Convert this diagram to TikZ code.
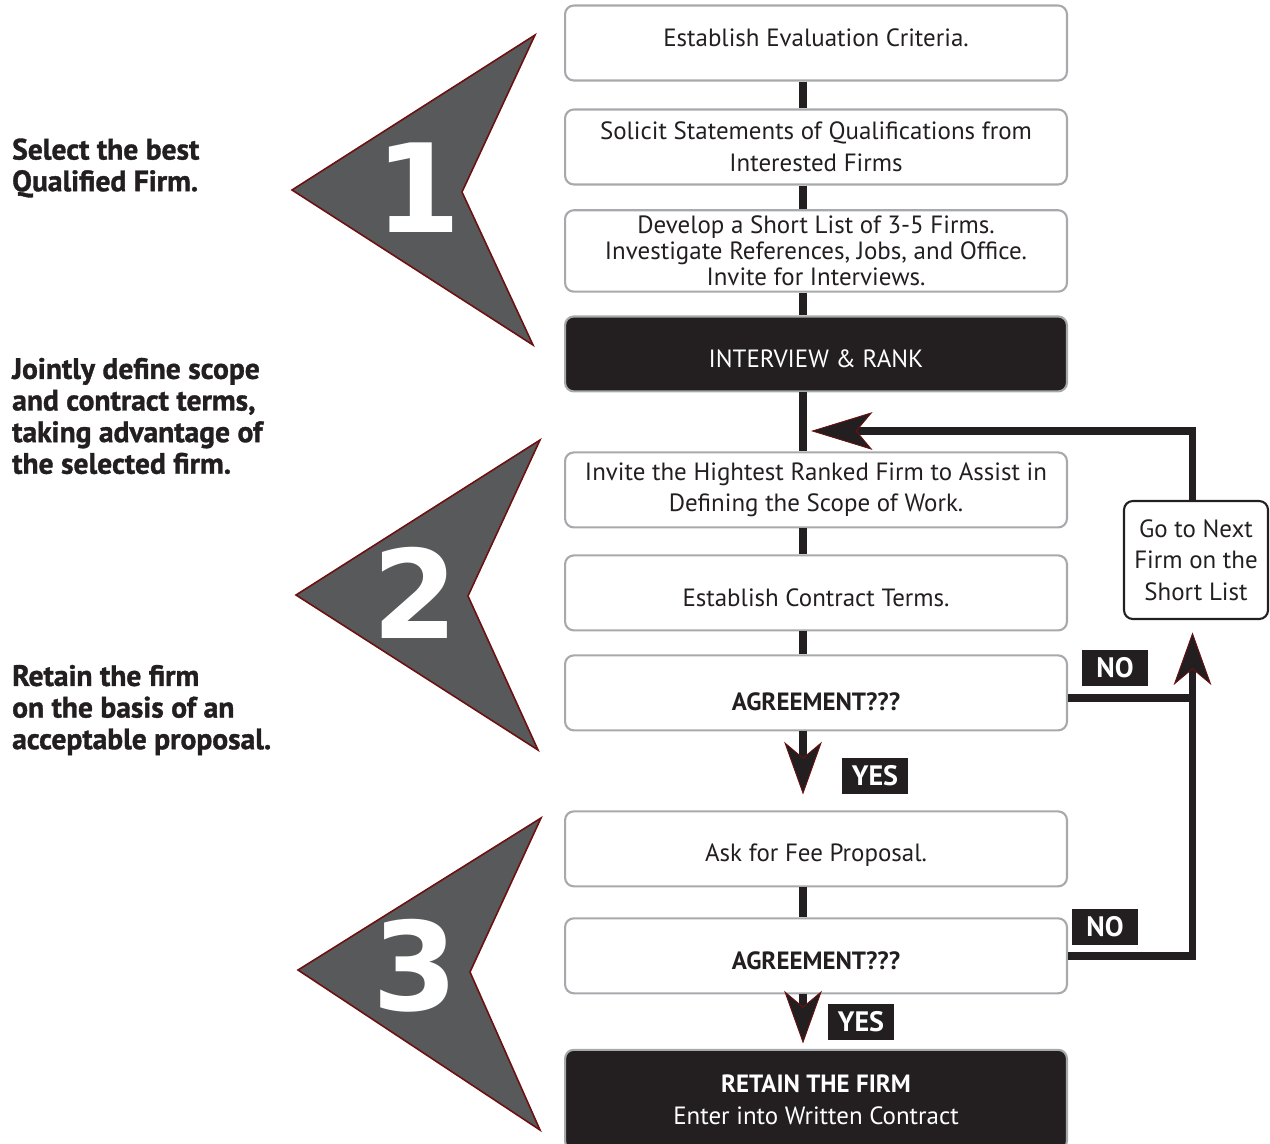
\documentclass[tikz,border=0pt]{standalone}
\usepackage{fontspec}
\setmainfont{PT Sans}
\newfontfamily\condfont[FakeBold=1.2]{PT Sans Bold}
\newfontfamily\numfont{DejaVu Sans}
\usetikzlibrary{positioning,arrows.meta}

\definecolor{boxgray}{HTML}{A7A9AC}
\definecolor{inkblack}{HTML}{231F20}
\definecolor{chevgray}{HTML}{58595B}
\definecolor{chevred}{HTML}{6D1010}

% shift the ink of a text without changing its box
\newcommand{\nudge}[2]{\raisebox{#1}[\height][\depth]{#2}}

\tikzstyle{block} = [draw=boxgray, line width=1.2pt, fill=white, rectangle, rounded corners=5pt, minimum width=10.04cm, minimum height=1.5cm, align=center, text=inkblack, font=\fontsize{14.2}{18}\selectfont]
\tikzstyle{darkblock} = [block, fill=inkblack, text=white]
\tikzstyle{sidebox} = [draw=inkblack, line width=1.2pt, rectangle, rounded corners=5pt, minimum width=2.88cm, minimum height=2.36cm, align=center, text=inkblack, font=\fontsize{14.2}{18}\selectfont]
\tikzstyle{tag} = [fill=inkblack, text=white, minimum width=1.32cm, minimum height=0.72cm, inner sep=0pt, font=\fontsize{16}{18}\selectfont\bfseries]
\tikzstyle{note} = [anchor=west, align=left, text=inkblack, font=\condfont\fontsize{16.8}{18}\selectfont]
\tikzstyle{flow} = [draw=inkblack, line width=4.5pt]
\tikzstyle{chevron} = [fill=chevgray, draw=chevred, line width=0.9pt, line join=miter]
\tikzstyle{bignum} = [text=white, font=\numfont\fontsize{70}{70}\selectfont\bfseries]

\begin{document}
\begin{tikzpicture}[x=0.02cm, y=-0.02cm, node distance=2.08cm,
  dart/.style={-{Stealth[length=30pt, width=21.5pt, inset=9pt, color=chevred, fill=inkblack, line width=0.5pt]}},
  longdart/.style={-{Stealth[length=35pt, width=21.5pt, inset=9pt, color=chevred, fill=inkblack, line width=0.5pt]}}]
  \useasboundingbox (0,0) rectangle (1270,1143);

  % chevrons
  \draw[chevron] (292,190) -- (535,35) -- (462,192) -- (533,345) -- cycle;
  \draw[chevron] (296,595) -- (540,440) -- (468,596) -- (538,750) -- cycle;
  \draw[chevron] (298,970) -- (541,818) -- (470,972) -- (540,1130) -- cycle;
  \node[bignum] (one) at (418,188) {1};
  \node[bignum] (two) at (415,593) {2};
  \node[bignum] (three) at (415,966) {3};

  % side notes
  \node[note] (sel) at (6,168) {Select the best\\Qualified Firm.};
  \node[note] (joint) at (6,416) {Jointly define scope\\and contract terms,\\taking advantage of\\the selected firm.};
  \node[note] (keep) at (6,710) {Retain the firm\\on the basis of an\\acceptable proposal.};

  % main column
  \coordinate (spine) at (803,0);
  \node[block] (crit) at (816,43) {\nudge{2.8pt}{Establish Evaluation Criteria.}};
  \node[block, below of=crit] (soq) {Solicit Statements of Qualifications from\\Interested Firms};
  \node[block, below of=soq, font=\fontsize{14.2}{14.7}\selectfont] (list) {Develop a Short List of 3-5 Firms.\\Investigate References, Jobs, and Office.\\Invite for Interviews.};
  \node[darkblock, below of=list, node distance=2.06cm] (rank) {\nudge{-2.6pt}{INTERVIEW \& RANK}};
  \node[block, below of=rank, node distance=2.72cm] (scope) {Invite the Hightest Ranked Firm to Assist in\\Defining the Scope of Work.};
  \node[block, below of=scope, node distance=2.06cm] (terms) {\nudge{-2.8pt}{Establish Contract Terms.}};
  \node[block, below of=terms, node distance=2cm] (agr1) {\nudge{-5pt}{\bfseries AGREEMENT???}};
  \node[block, below of=agr1, node distance=3.12cm] (fee) {\nudge{-3.4pt}{Ask for Fee Proposal.}};
  \node[block, below of=fee, node distance=2.14cm] (agr2) {\nudge{-2.8pt}{\bfseries AGREEMENT???}};
  \node[darkblock, below of=agr2, node distance=2.88cm, minimum height=2cm] (retain) {\bfseries RETAIN THE FIRM\\Enter into Written Contract};

  \node[sidebox] (next) at (1196,560) {Go to Next\\Firm on the\\Short List};

  % labels
  \node[tag] (no1) at (1115,668) {NO};
  \node[tag] (no2) at (1105,927) {NO};
  \node[tag] (yes1) at (875,776) {YES};
  \node[tag] (yes2) at (861,1022) {YES};

  % connectors
  \draw[flow] (crit.south -| spine) -- (soq.north -| spine);
  \draw[flow] (soq.south -| spine) -- (list.north -| spine);
  \draw[flow] (list.south -| spine) -- (rank.north -| spine);
  \draw[flow] (rank.south -| spine) -- (scope.north -| spine);
  \draw[flow] (scope.south -| spine) -- (terms.north -| spine);
  \draw[flow] (terms.south -| spine) -- (agr1.north -| spine);
  \draw[flow, dart, shorten >=9pt] (agr1.south -| spine) -- (fee.north -| spine);
  \draw[flow] (fee.south -| spine) -- (agr2.north -| spine);
  \draw[flow, dart, shorten >=3pt] (agr2.south -| spine) -- (retain.north -| spine);

  \coordinate (back) at (811,431);
  \draw[flow] ([yshift=-3pt]agr1.east) -- ([yshift=-3pt]agr1.east -| next.south);
  \draw[flow, dart, shorten >=7pt] (agr2.east) -| ([xshift=-2pt]next.south);
  \draw[flow, longdart] ([xshift=-2pt]next.north) |- (back);
\end{tikzpicture}
\end{document}
